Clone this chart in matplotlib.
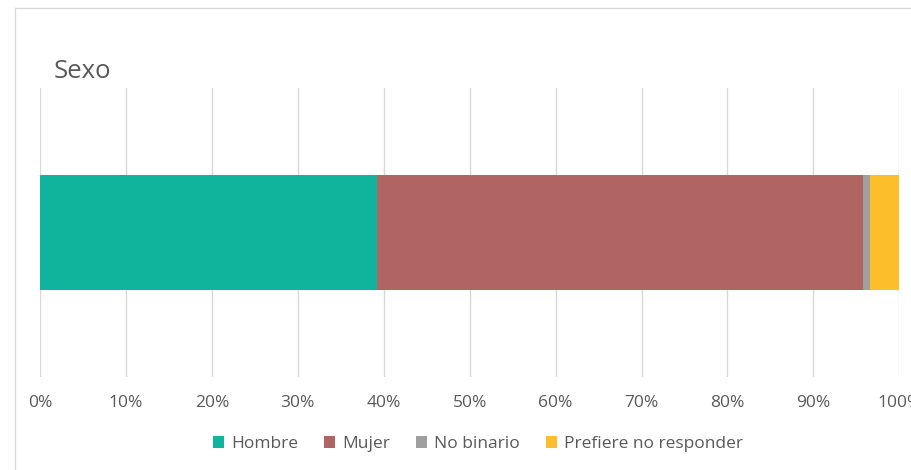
import matplotlib
matplotlib.use("Agg")
import matplotlib.pyplot as plt
from matplotlib.lines import Line2D
from matplotlib.patches import Patch
from matplotlib.ticker import PercentFormatter

plt.rcParams["font.family"] = ["Open Sans", "DejaVu Sans"]

categories = ["Hombre", "Mujer", "No binario", "Prefiere no responder"]
shares = [39.25, 56.55, 0.78, 3.42]
colors = ["#10b39c", "#b06563", "#9f9f9f", "#fdbe2b"]
x_ticks = [0, 10, 20, 30, 40, 50, 60, 70, 80, 90, 100]

TEXT_GREY = "#595959"
GRID_GREY = "#d9d9d9"

fig = plt.figure(figsize=(9.11, 4.70), dpi=100)
fig.patch.set_facecolor("white")
ax = fig.add_axes([40 / 911, 1 - 377 / 470, 859.3 / 911, 289 / 470])

left = 0
for cat, val, col in zip(categories, shares, colors):
    ax.barh(0, val, left=left, height=0.4, color=col, zorder=3, label=cat)
    left += val

ax.set_xlim(0, 100)
ax.set_ylim(-0.5, 0.5)
ax.set_yticks([])
ax.set_xticks(x_ticks)
ax.xaxis.set_major_formatter(PercentFormatter(decimals=0))
ax.tick_params(axis="x", length=0, pad=13, labelsize=12.5, labelcolor=TEXT_GREY)
ax.grid(axis="x", color=GRID_GREY, linewidth=1, zorder=0)
for spine in ax.spines.values():
    spine.set_visible(False)

fig.text(54 / 911, 1 - 72 / 470, "Sexo", fontsize=18.5, color=TEXT_GREY, va="center", ha="left")

handles = [Patch(facecolor=c, edgecolor="none") for c in colors]
fig.legend(handles, categories, loc="center", bbox_to_anchor=(478 / 911, 1 - 444 / 470),
           ncol=4, frameon=False, fontsize=12.5, labelcolor=TEXT_GREY,
           handlelength=0.65, handleheight=0.65, handletextpad=0.4, columnspacing=1.5)

# outer chart border
fig.add_artist(Line2D([15 / 911, 15 / 911], [0, 1 - 8 / 470], color=GRID_GREY, lw=1,
                      transform=fig.transFigure))
fig.add_artist(Line2D([15 / 911, 1], [1 - 8 / 470, 1 - 8 / 470], color=GRID_GREY, lw=1,
                      transform=fig.transFigure))

fig.savefig("out.png", dpi=100, facecolor="white")
